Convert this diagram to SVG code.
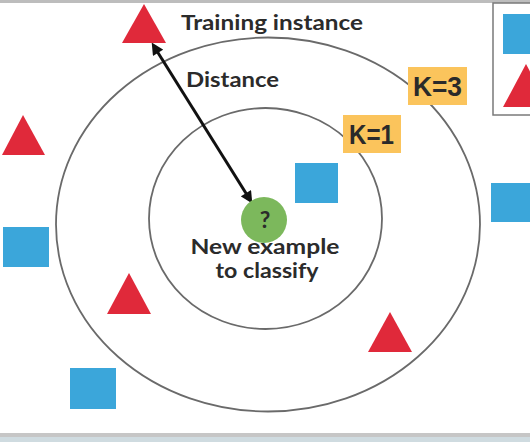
<svg xmlns="http://www.w3.org/2000/svg" width="530" height="442" viewBox="0 0 530 442">
<style>
.tri{fill:#e0293a}
.sq{fill:#3ba6da}
.ring{fill:none;stroke:#6a6a6a;stroke-width:1.8}
.lbl{font-family:Lato,"Liberation Sans",sans-serif;font-weight:bold;fill:#2b2b2b}
.kbox{fill:#fbc45c}
.k{font-family:"Liberation Sans",Arial,sans-serif;font-weight:bold;font-size:27px;fill:#2a2a2a}
</style>
<defs>
<marker id="ah" viewBox="0 0 10 10" refX="4" refY="5" markerWidth="4.4" markerHeight="4" orient="auto-start-reverse" markerUnits="strokeWidth">
<path d="M0,0 L10,5 L0,10 z" fill="#111"/>
</marker>
</defs>
<rect x="0" y="0" width="530" height="442" fill="#ffffff"/>
<rect x="0" y="0" width="530" height="3" fill="#bdbdbd"/>
<rect x="0" y="433" width="530" height="4" fill="#c6c6c6"/>
<rect x="0" y="437" width="530" height="5" fill="#cfdbe0"/>

<g id="legend">
<rect x="493" y="3" width="50" height="112" fill="#ffffff" stroke="#7a7a7a" stroke-width="1.5"/>
<rect class="sq" x="503" y="14" width="40" height="40"/>
<polygon class="tri" points="526,64 503,107 549,107"/>
</g>

<g id="ring-k3"><ellipse class="ring" cx="268" cy="224.5" rx="212" ry="187"/></g>
<g id="ring-k1"><ellipse class="ring" cx="265.5" cy="218.5" rx="116.5" ry="110.5"/></g>

<g id="connectors">
<line x1="155.5" y1="48.7" x2="248.5" y2="197.3" stroke="#111" stroke-width="3" marker-start="url(#ah)" marker-end="url(#ah)"/>
</g>

<g id="training-instance"><polygon class="tri" points="144,4 122,43 166,43"/></g>
<g id="tri-left"><polygon class="tri" points="23,115 2,155 45,155"/></g>
<g id="tri-lower-left"><polygon class="tri" points="129,273 107,314 151,314"/></g>
<g id="tri-lower-right"><polygon class="tri" points="390,312 368,352 412,352"/></g>

<g id="sq-center"><rect class="sq" x="295" y="163" width="43" height="40"/></g>
<g id="sq-left"><rect class="sq" x="3" y="227" width="46" height="40"/></g>
<g id="sq-right"><rect class="sq" x="491" y="183" width="45" height="39"/></g>
<g id="sq-bottom"><rect class="sq" x="70" y="368" width="46" height="41"/></g>

<g id="new-example">
<circle cx="264" cy="220" r="23" fill="#7cb85c"/>
<text class="lbl" x="265" y="228" font-size="23" text-anchor="middle">?</text>
<text class="lbl" x="265" y="254" font-size="21" text-anchor="middle" textLength="149" lengthAdjust="spacingAndGlyphs">New example</text>
<text class="lbl" x="267" y="278" font-size="21" text-anchor="middle" textLength="103" lengthAdjust="spacingAndGlyphs">to classify</text>
</g>

<g id="label-training">
<text class="lbl" x="181" y="30" font-size="20" textLength="182" lengthAdjust="spacingAndGlyphs">Training instance</text>
</g>
<g id="label-distance">
<text class="lbl" x="186" y="87" font-size="20" textLength="93" lengthAdjust="spacingAndGlyphs">Distance</text>
</g>

<g id="k3">
<rect class="kbox" x="408" y="67" width="59" height="38"/>
<text class="k" x="413" y="95.5" textLength="49" lengthAdjust="spacingAndGlyphs">K=3</text>
</g>
<g id="k1">
<rect class="kbox" x="343" y="115" width="58" height="38"/>
<text class="k" x="349" y="143.5" textLength="45" lengthAdjust="spacingAndGlyphs">K=1</text>
</g>
</svg>
